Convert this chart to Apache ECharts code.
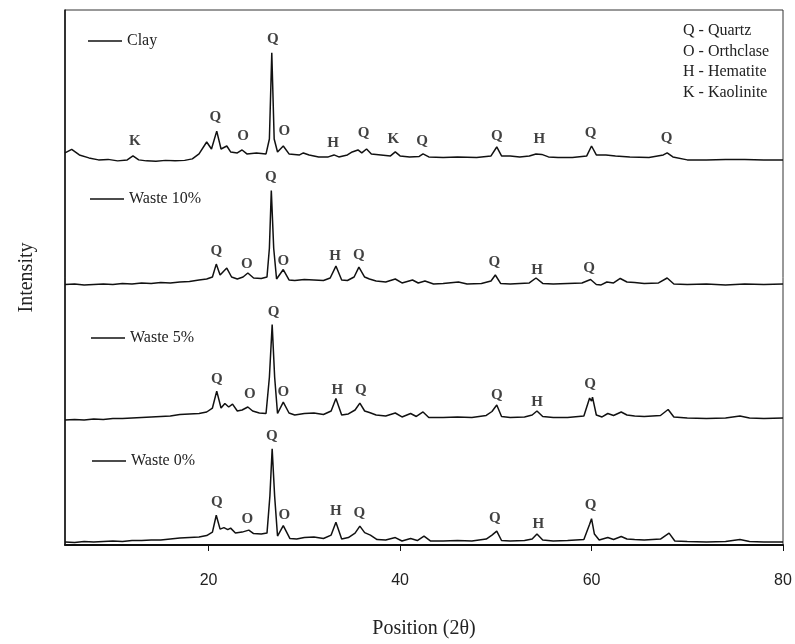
<!DOCTYPE html>
<html>
<head>
<meta charset="utf-8">
<style>
  html, body { margin: 0; padding: 0; background: #fff; }
  #main { width: 795px; height: 644px; }
</style>
<script src="https://cdn.jsdelivr.net/npm/echarts@6/dist/echarts.min.js"></script>
</head>
<body>
<div id="main"></div>
<script>
// XRD patterns, [2theta, intensity above the trace's own baseline]
var clay = [
  [5.0,10],[5.7,13.5],[6.5,8],[7.5,5],[8.5,3],[9.5,3.5],[10.5,2],[11.5,3],[12.1,7],[12.7,3],
  [13.5,2],[14.5,1.5],[15.5,2.5],[16.5,2],[17.5,2.5],[18.3,4],[19.0,9],[19.8,21],[20.3,14],[20.85,32],
  [21.3,14],[21.9,17],[22.3,11],[23.0,10],[23.5,13],[24.0,9],[25.0,10],[26.0,9],[26.35,24],[26.6,111],
  [26.85,24],[27.2,11],[27.8,17],[28.4,9],[29.5,8],[29.9,10],[30.5,8],[31.5,6],[32.5,6],[33.1,8],
  [33.6,6],[34.5,8],[35.0,11],[35.6,13],[36.0,10],[36.5,14],[37.0,9],[38.0,8],[39.0,7],[39.5,11],
  [40.0,7],[41.0,6],[42.0,6.5],[42.4,9],[43.0,6],[44.5,5.5],[46.0,6],[48.0,5.5],[49.5,7],[50.1,16],
  [50.6,7],[51.5,7],[52.5,6],[53.5,7],[54.2,9],[54.8,8.5],[55.5,6],[56.5,5.5],[58.0,5.5],[59.5,7],
  [60.0,17],[60.5,8],[61.5,8],[62.5,7],[64.0,6],[66.0,5.5],[67.5,8],[67.9,10],[68.5,6],[70.0,3],
  [72.0,3],[74.0,3.5],[76.0,3.5],[78.0,3],[80.0,3]
];
var waste10 = [
  [5.0,7.5],[6.0,8],[7.0,7],[8.0,7.5],[9.0,8],[10.0,7.5],[11.0,8.5],[12.0,8],[13.0,9],[14.0,8.5],
  [15.0,9.5],[16.0,9],[17.0,10],[18.0,10.5],[19.0,12],[19.8,13],[20.4,15],[20.8,28],[21.2,17],[21.9,24],
  [22.4,15],[23.0,13],[23.6,15],[24.1,19],[24.7,14],[25.5,13.5],[26.1,15],[26.35,44],[26.55,102],[26.8,44],
  [27.1,13],[27.8,22.5],[28.4,12],[29.0,11.5],[30.0,12.5],[31.0,12],[32.0,11.5],[32.7,14],[33.3,26],[33.9,12],
  [34.5,11.5],[35.2,15],[35.7,25],[36.3,15],[36.8,13],[37.5,11],[38.5,10],[39.5,13],[40.2,9],[41.3,12],
  [41.9,9],[42.6,11],[43.5,8],[44.5,8.5],[46.1,10],[47.0,8],[48.5,8.5],[49.5,11],[49.95,17],[50.5,8.5],
  [51.5,8],[52.5,8.5],[53.5,9],[54.2,14],[54.9,8.5],[56.0,8],[57.5,8.5],[59.0,9],[59.9,12.5],[60.5,7.5],
  [61.0,7],[61.6,10],[62.3,9],[63.0,13.5],[63.7,10],[64.5,9.5],[65.5,8.5],[67.0,9],[67.9,14],[68.6,8],
  [70.0,7.5],[72.0,8],[74.0,7],[76.0,8],[78.0,7.5],[80.0,8]
];
var waste5 = [
  [5.0,6],[6.0,6.5],[7.0,6],[8.0,7],[9.0,6.5],[10.0,7.5],[11.0,7.5],[12.0,8],[13.0,8.5],[14.0,9],
  [15.0,9.5],[16.0,10],[17.0,11.5],[18.0,12],[19.0,12.5],[19.8,14],[20.4,18],[20.85,35],[21.3,18],[21.7,22.5],
  [22.1,19],[22.5,22],[23.0,15],[23.5,16],[24.1,19],[24.6,15],[25.3,13],[26.0,12.5],[26.35,49],[26.64,102],
  [26.9,49],[27.2,12.5],[27.8,24],[28.4,13],[29.0,11],[30.0,12.5],[31.0,13],[32.0,11.5],[32.8,15],[33.3,27.5],
  [33.9,11],[34.6,12],[35.3,16],[35.8,23],[36.3,15],[36.8,13.5],[37.5,11],[38.5,10],[39.5,13],[40.2,9],
  [41.1,12.5],[41.7,9.5],[42.4,14],[43.0,8.5],[44.5,8.5],[46.0,9],[47.5,8.5],[49.0,10.5],[49.6,14.5],[50.1,21],
  [50.6,9.5],[51.5,8.5],[53.0,9],[53.8,11],[54.3,15],[54.9,9.5],[56.0,8.5],[57.5,8.5],[59.2,10],[59.8,28],
  [60.0,25],[60.1,29],[60.5,11],[61.1,9],[61.7,12.5],[62.3,10.5],[63.1,14],[63.7,11],[64.5,10],[65.5,9.5],
  [67.2,10.5],[68.0,16.5],[68.6,9],[70.0,8],[72.0,7.5],[74.0,8],[75.5,10],[76.5,8],[78.0,7.5],[80.0,8]
];
var waste0 = [
  [5.0,3],[6.0,2.5],[7.0,3.5],[8.0,3],[9.0,3.5],[10.0,4],[11.0,3.5],[12.0,4.5],[13.0,4.5],[14.0,5],
  [15.0,5],[16.0,6],[17.0,7],[18.0,7.5],[19.0,8],[19.8,9.5],[20.4,13],[20.8,30],[21.2,16],[21.6,17.5],
  [22.0,15.5],[22.3,17],[22.8,12],[23.5,13],[24.2,15],[24.7,11.5],[25.5,11],[26.1,12],[26.4,49],[26.64,97],
  [26.9,49],[27.2,9],[27.8,19.5],[28.5,6.5],[29.2,6],[30.0,7.5],[31.0,8],[32.0,6.5],[32.8,10],[33.3,23],
  [33.9,6],[34.6,7.5],[35.3,12],[35.8,19],[36.3,12.5],[36.9,10],[37.6,5.5],[38.5,5],[39.5,7.5],[40.2,4],
  [41.1,6.5],[41.8,4.5],[42.5,9],[43.2,4],[44.5,4],[46.0,4.5],[47.5,4],[49.0,6],[49.6,10],[50.1,14],
  [50.6,4.5],[51.5,4],[53.0,4.5],[53.8,6],[54.3,11],[54.9,5],[56.0,4],[57.5,4.5],[59.2,5.5],[59.8,21],
  [60.0,26.5],[60.3,11],[60.8,5],[61.7,7.5],[62.3,5.5],[63.1,8.5],[63.7,6],[64.5,5.5],[65.5,5],[67.2,6],
  [68.1,12],[68.7,4],[70.0,3.5],[72.0,3],[74.0,3.5],[75.5,5.5],[76.5,3.5],[78.0,3],[80.0,3]
];

var seriesNames = ['Clay', 'Waste 10%', 'Waste 5%', 'Waste 0%'];
var seriesData = [clay, waste10, waste5, waste0];
var stackOffsets = [385, 255, 120, 0];

// phase labels: [2theta, height on the stacked axis, letter]
var peakLabels = [
  [12.3,407,'K'],[20.7,431,'Q'],[23.6,412,'O'],[26.7,510,'Q'],[27.9,417,'O'],[33.0,405,'H'],
  [36.2,415,'Q'],[39.3,409,'K'],[42.3,407,'Q'],[50.1,412,'Q'],[54.55,409,'H'],[59.9,415,'Q'],[67.85,410,'Q'],
  [26.5,371,'Q'],[20.8,296,'Q'],[24.0,283,'O'],[27.8,286,'O'],[33.2,291,'H'],[35.7,292,'Q'],
  [49.85,285,'Q'],[54.3,277,'H'],[59.75,279,'Q'],
  [26.8,235,'Q'],[20.85,167,'Q'],[24.3,152,'O'],[27.8,154,'O'],[33.45,156,'H'],[35.9,156,'Q'],
  [50.1,151,'Q'],[54.3,144,'H'],[59.85,162,'Q'],
  [26.6,110,'Q'],[20.85,43,'Q'],[24.05,26,'O'],[27.9,30,'O'],[33.3,34,'H'],[35.75,32,'Q'],
  [49.9,27,'Q'],[54.45,21,'H'],[59.9,40,'Q']
];
var phaseKey = ['Q - Quartz', 'O - Orthclase', 'H - Hematite', 'K - Kaolinite'];
var xTicks = [20, 40, 60, 80];

var legendPos = [[83, 28], [85, 186], [86, 325], [87, 448]];

var serif = "'Liberation Serif', 'DejaVu Serif', serif";

var myChart = echarts.init(document.getElementById('main'));

var series = seriesData.map(function (d, i) {
  return {
    name: seriesNames[i],
    type: 'line',
    symbol: 'none',
    silent: true,
    lineStyle: { color: '#111', width: 1.5 },
    itemStyle: { color: '#111' },
    data: d.map(function (p) { return [p[0], p[1] + stackOffsets[i]]; })
  };
});
series.push({
  type: 'scatter',
  symbolSize: 0,
  silent: true,
  label: {
    show: true,
    position: 'inside',
    formatter: '{b}',
    color: '#111',
    fontFamily: serif,
    fontWeight: 'bold',
    fontSize: 15
  },
  data: peakLabels.map(function (p) { return { name: p[2], value: [p[0], p[1]] }; })
});

var legends = seriesNames.map(function (n, i) {
  return {
    data: [{ name: n, icon: 'rect' }],
    left: legendPos[i][0],
    top: legendPos[i][1],
    itemWidth: 34,
    itemHeight: 1.3,
    selectedMode: false,
    itemStyle: { color: '#111', borderWidth: 0 },
    textStyle: { fontFamily: serif, fontSize: 16, color: '#222', padding: [0, 0, 0, 0] }
  };
});

var option = {
  animation: false,
  backgroundColor: '#fff',
  title: {
    text: phaseKey.join('\n'),
    left: 678,
    top: 16,
    textStyle: { fontFamily: serif, fontSize: 16, fontWeight: 'normal', color: '#222', lineHeight: 20.5 }
  },
  legend: legends,
  grid: {
    left: 65, right: 12, top: 10, bottom: 95,
    show: true, borderColor: '#333', borderWidth: 1
  },
  xAxis: {
    type: 'value',
    min: 5,
    max: 80,
    name: 'Position (2θ)',
    nameLocation: 'middle',
    nameGap: 74,
    nameTextStyle: { fontFamily: serif, fontSize: 20, color: '#222' },
    axisLine: { show: true, lineStyle: { color: '#111', width: 2 } },
    axisTick: { show: true, inside: false, length: 6, customValues: xTicks, lineStyle: { color: '#111' } },
    axisLabel: { customValues: xTicks, margin: 28, fontFamily: "'Liberation Sans', Arial, sans-serif", fontSize: 16, color: '#222' },
    splitLine: { show: false }
  },
  yAxis: {
    type: 'value',
    min: 0,
    max: 539,
    name: 'Intensity',
    nameLocation: 'middle',
    nameGap: 28,
    nameTextStyle: { fontFamily: serif, fontSize: 20, color: '#222' },
    axisLine: { show: true, lineStyle: { color: '#111', width: 1.5 } },
    axisTick: { show: false },
    axisLabel: { show: false },
    splitLine: { show: false }
  },
  series: series
};
myChart.setOption(option);
</script>
</body>
</html>
